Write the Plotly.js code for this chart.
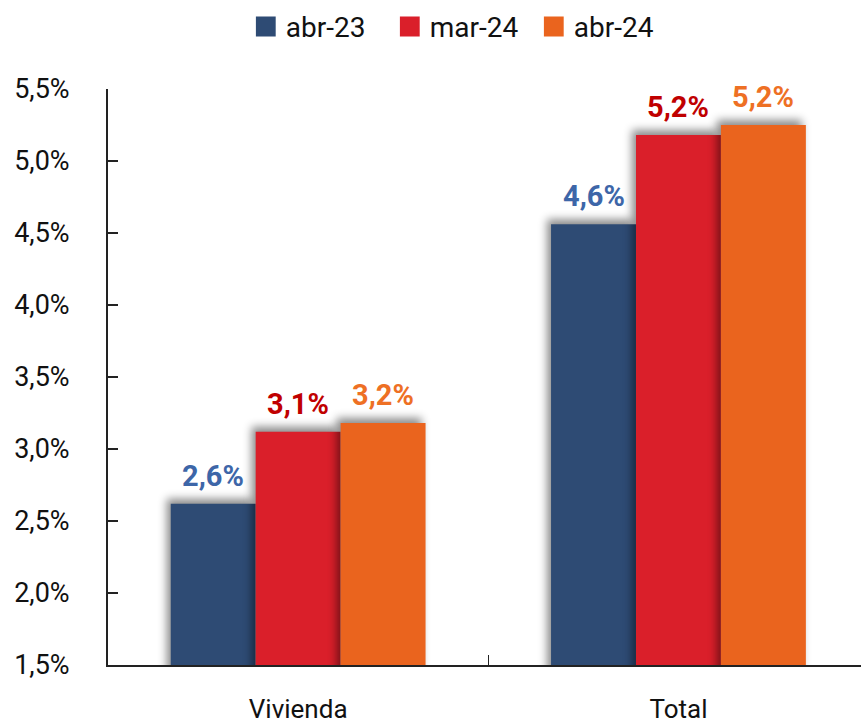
<!DOCTYPE html>
<html>
<head>
<meta charset="utf-8">
<script src="https://cdn.plot.ly/plotly-3.0.1.min.js"></script>
<style>
html,body{margin:0;padding:0;background:#fff;}
#chart{width:861px;height:724px;}
.barlayer .point path{filter:drop-shadow(-4px -5px 4px rgba(0,0,0,0.45));}
</style>
</head>
<body>
<div id="chart"></div>
<script>
const categories = ["Vivienda", "Total"];
const seriesNames = ["abr-23", "mar-24", "abr-24"];
const abr23 = [2.62, 4.56];
const mar24 = [3.12, 5.18];
const abr24 = [3.18, 5.25];
const labelsAbr23 = ["2,6%", "4,6%"];
const labelsMar24 = ["3,1%", "5,2%"];
const labelsAbr24 = ["3,2%", "5,2%"];
const yTicks = [1.5, 2.0, 2.5, 3.0, 3.5, 4.0, 4.5, 5.0, 5.5];
const yTickText = ["1,5%", "2,0%", "2,5%", "3,0%", "3,5%", "4,0%", "4,5%", "5,0%", "5,5%"];

const barColors = ["#2E4B74", "#DA1F2A", "#EA641E"];
const labelColors = ["#3D66A8", "#C00000", "#EE7024"];
const FONT = "Roboto, 'Noto Sans', sans-serif";

const values = [abr23, mar24, abr24];
const labels = [labelsAbr23, labelsMar24, labelsAbr24];

const traces = values.map((v, j) => ({
  type: "bar",
  name: seriesNames[j],
  x: categories,
  y: v,
  marker: {color: barColors[j], line: {width: 0}},
  hoverinfo: "none"
}));

const bargap = 0.33;
const barW = (1 - bargap) / 3;
const annotations = [];
values.forEach((v, j) => {
  v.forEach((val, i) => {
    annotations.push({
      x: i + (j - 1) * barW,
      y: val,
      xref: "x", yref: "y",
      text: "<b>" + labels[j][i] + "</b>",
      showarrow: false,
      yanchor: "bottom",
      yshift: 9,
      font: {family: FONT, size: 29, color: labelColors[j]}
    });
  });
});

const layout = {
  width: 861, height: 724,
  margin: {l: 108, r: 0, t: 89, b: 59},
  paper_bgcolor: "#fff",
  plot_bgcolor: "#fff",
  font: {family: FONT, size: 24, color: "#222"},
  separators: ",.",
  barmode: "group",
  bargap: bargap,
  bargroupgap: 0,
  showlegend: true,
  legend: {
    orientation: "h",
    x: 0.183, xanchor: "left",
    y: 1.108, yanchor: "middle",
    font: {family: FONT, size: 28, color: "#111"},
    itemwidth: 30,
    entrywidth: 99,
    entrywidthmode: "pixels",
    traceorder: "normal"
  },
  xaxis: {
    type: "category",
    range: [-0.5, 1.48],
    showline: true, linecolor: "#222", linewidth: 2,
    ticks: "inside", tickson: "boundaries", ticklen: 10, tickcolor: "#222", tickwidth: 1.5,
    ticklabelstandoff: 20,
    tickfont: {family: FONT, size: 26, color: "#111"},
    showgrid: false, zeroline: false, fixedrange: true
  },
  yaxis: {
    range: [1.5, 5.5],
    tickmode: "array",
    tickvals: yTicks,
    ticktext: yTickText,
    showline: true, linecolor: "#222", linewidth: 2,
    ticks: "inside", ticklen: 10, tickcolor: "#222", tickwidth: 1.5,
    ticklabelstandoff: 31,
    tickfont: {family: FONT, size: 27, color: "#111"},
    showgrid: false, zeroline: false, fixedrange: true
  },
  annotations: annotations
};

function enlargeLegendSymbols() {
  document.querySelectorAll("#chart .legend .legendpoints path").forEach(p => {
    const t = p.getAttribute("transform") || "";
    if (!/scale/.test(t)) p.setAttribute("transform", (t + " scale(1.65)").trim());
  });
}

Plotly.newPlot("chart", traces, layout, {displayModeBar: false, staticPlot: true}).then(gd => {
  enlargeLegendSymbols();
  gd.on("plotly_afterplot", enlargeLegendSymbols);
});
</script>
</body>
</html>
